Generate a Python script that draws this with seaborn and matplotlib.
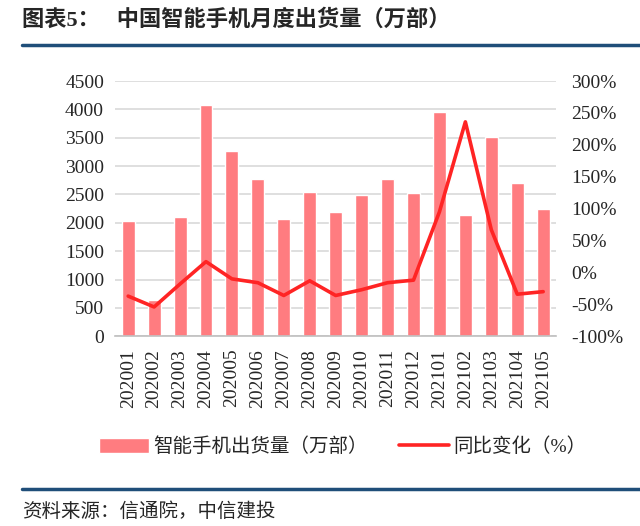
import numpy as np
import pandas as pd
import seaborn as sns
from matplotlib import pyplot as plt
from matplotlib.lines import Line2D
from matplotlib.ticker import FuncFormatter

# data
months = ['202001', '202002', '202003', '202004', '202005', '202006', '202007', '202008', '202009',
          '202010', '202011', '202012', '202101', '202102', '202103', '202104', '202105']
shipments = [2040, 638, 2100, 4080, 3260, 2770, 2070, 2550, 2200,
             2490, 2770, 2520, 3950, 2130, 3520, 2700, 2250]
yoy_pct = [-37, -54, -18, 17, -10, -16, -36, -13, -36,
           -27, -16, -12, 95, 236, 67, -34, -30]

bar_label = '智能手机出货量（万部）'
line_label = '同比变化（%）'
title = '图表5：   中国智能手机月度出货量（万部）'
source = '资料来源：信通院，中信建投'

sns.set_style('white')
plt.rcParams['font.family'] = ['Liberation Serif', 'Noto Sans CJK SC']

df = pd.DataFrame({'month': months, 'shipments': shipments, 'yoy': yoy_pct})
df['pos'] = df.index

fig = plt.figure(figsize=(6.4, 5.26), dpi=100)
ax = fig.add_axes([0.18, 0.3606, 0.689, 0.4854])

sns.barplot(data=df, x='month', y='shipments', color='#FF7C80', saturation=1,
            width=0.5, ax=ax, label=bar_label, zorder=2)
if ax.get_legend() is not None:
    ax.get_legend().remove()
ax.set_ylim(0, 4500)
ax.set_yticks(np.arange(0, 4501, 500))
ax.yaxis.grid(True, color='#D9D9D9', lw=1.2, zorder=0)
ax.set_axisbelow(True)
ax.set_xlim(-0.5, len(months) - 0.5)
ax.set_xlabel('')
ax.set_ylabel('')
ax.tick_params(axis='y', length=0, pad=8, labelsize=14)
ax.tick_params(axis='x', which='major', length=0, pad=9, labelsize=14, rotation=90)
ax.set_xticks(np.arange(-0.5, len(months)), minor=True)
ax.tick_params(axis='x', which='minor', length=5, color='#BFBFBF', width=1)
for s in ['top', 'left', 'right']:
    ax.spines[s].set_visible(False)
ax.spines['bottom'].set_color('#BFBFBF')
ax.spines['bottom'].set_linewidth(1.2)

ax2 = ax.twinx()
sns.lineplot(data=df, x='pos', y='yoy', color='#FF2424', lw=2.6, ax=ax2,
             label=line_label, legend=False)
if ax2.get_legend() is not None:
    ax2.get_legend().remove()
ax2.set_ylim(-100, 300)
ax2.set_yticks(np.arange(-100, 301, 50))
ax2.yaxis.set_major_formatter(FuncFormatter(lambda v, p: f'{v:.0f}%'))
ax2.tick_params(axis='y', length=0, pad=11, labelsize=14)
ax2.set_ylabel('')
ax2.set_xlim(-0.5, len(months) - 0.5)
for s in ['top', 'left', 'right', 'bottom']:
    ax2.spines[s].set_visible(False)

h1, l1 = ax.get_legend_handles_labels()
h2, l2 = ax2.get_legend_handles_labels()
fig.legend(h1 + h2, l1 + l2, loc='center', bbox_to_anchor=(0.535, 0.15), ncol=2,
           frameon=False, fontsize=14, handlelength=2.6, handleheight=0.8,
           handletextpad=0.2, columnspacing=1.6)

# header / footer
fig.text(0.034, 0.962, title, fontsize=16, fontweight='bold', va='center', ha='left')
fig.add_artist(Line2D([0.034, 1.0], [0.915, 0.915], color='#1F4E79', lw=2.5))
fig.add_artist(Line2D([0.034, 1.0], [0.0703, 0.0703], color='#1F4E79', lw=2.5))
fig.text(0.034, 0.028, source, fontsize=14, va='center', ha='left', style='italic')

plt.savefig('out.png', dpi=100)
plt.close()
